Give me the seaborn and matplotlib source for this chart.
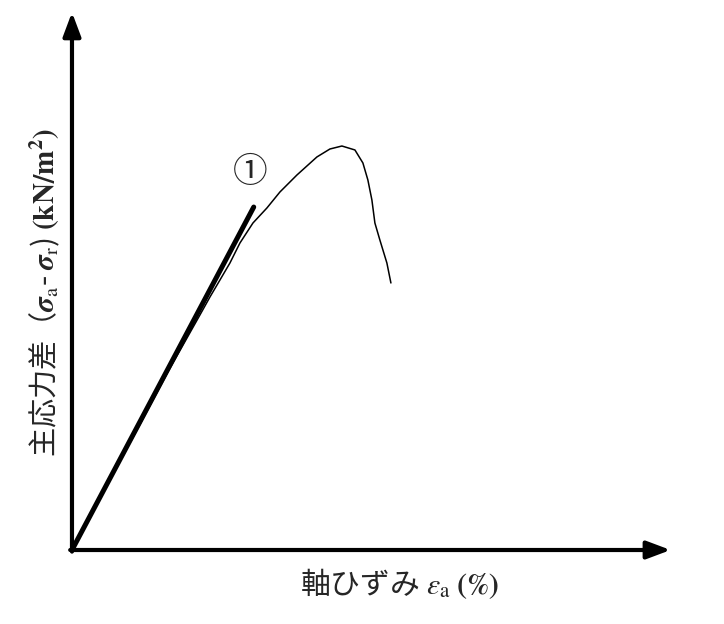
import numpy as np
import pandas as pd
import matplotlib
matplotlib.use("Agg")
import matplotlib.pyplot as plt
import seaborn as sns

# Stress-strain curve (schematic units)
strain = [0, 0.533, 1.083, 1.617, 2.133, 2.30, 2.467, 2.633, 2.80, 3.017, 3.25,
          3.467, 3.75, 4.083, 4.30, 4.50, 4.717, 4.85, 4.933, 5.0, 5.05, 5.133,
          5.25, 5.317]
stress = [0, 1.121, 2.243, 3.364, 4.393, 4.729, 5.047, 5.364, 5.738, 6.112, 6.393,
          6.692, 7.009, 7.346, 7.495, 7.551, 7.477, 7.234, 6.916, 6.542, 6.112,
          5.794, 5.364, 4.991]

# Initial tangent line (1)
tan_x = [0, 3.03]
tan_y = [0, 6.41]

curve = pd.DataFrame({"strain": strain, "stress": stress})
tangent = pd.DataFrame({"strain": tan_x, "stress": tan_y})

sns.set_theme(style="white")
plt.rcParams['font.family'] = ['Noto Sans CJK JP', 'DejaVu Sans']
plt.rcParams['mathtext.fontset'] = 'stix'

fig = plt.figure(figsize=(7.24, 6.24), dpi=100)
ax = fig.add_axes([0, 0, 1, 1])
ax.set_xlim(-1.2, 10.87)
ax.set_ylim(-1.383, 10.28)
ax.axis("off")

sns.lineplot(data=tangent, x="strain", y="stress", ax=ax, color="black",
             linewidth=3.6, sort=False, estimator=None)
sns.lineplot(data=curve, x="strain", y="stress", ax=ax, color="black",
             linewidth=1.1, sort=False, estimator=None)

# axes arrows
arrow = dict(arrowstyle="-|>,head_width=0.45,head_length=1.2", color="black",
             lw=3, shrinkA=0, shrinkB=0)
ax.annotate("", xy=(0, 10.05), xytext=(0, -0.03), arrowprops=arrow)
ax.annotate("", xy=(9.98, 0), xytext=(-0.03, 0), arrowprops=arrow)

ax.text(2.98, 7.05, "①", fontsize=25, ha="center", va="center")

ax.text(5.47, -0.62, "軸ひずみ $\\varepsilon_\\mathrm{a}$ $\\mathbf{(\\%)}$",
        fontsize=21.5, ha="center", va="center")
ax.text(-0.45, 4.82,
        "主応力差（$\\mathbfit{\\sigma}_\\mathrm{a}$- $\\mathbfit{\\sigma}_\\mathrm{r}$) $\\mathbf{(kN/m^2)}$",
        fontsize=21, ha="center", va="center", rotation=90)

fig.savefig("out.png", dpi=100)
